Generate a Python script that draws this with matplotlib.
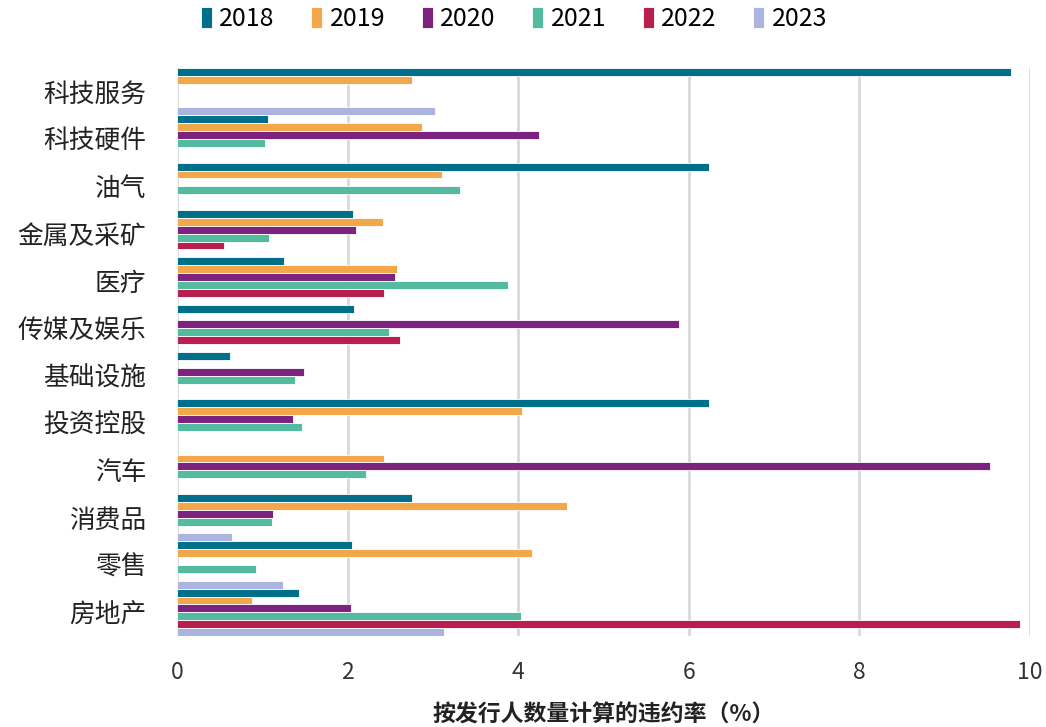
import matplotlib.pyplot as plt
import numpy as np

plt.rcParams['font.family'] = ['Noto Sans CJK SC', 'DejaVu Sans']

# Sectors, top to bottom
sectors = ['科技服务', '科技硬件', '油气', '金属及采矿', '医疗', '传媒及娱乐',
           '基础设施', '投资控股', '汽车', '消费品', '零售', '房地产']
years = ['2018', '2019', '2020', '2021', '2022', '2023']

# Default rate by issuer count (%), 0 = no default that year
rate_2018 = [9.78, 1.07, 6.24, 2.06, 1.26, 2.07, 0.62, 6.24, 0, 2.75, 2.05, 1.43]
rate_2019 = [2.76, 2.87, 3.11, 2.41, 2.58, 0, 0, 4.04, 2.43, 4.57, 4.16, 0.88]
rate_2020 = [0, 4.24, 0, 2.10, 2.55, 5.88, 1.49, 1.36, 9.53, 1.13, 0, 2.04]
rate_2021 = [0, 1.03, 3.32, 1.08, 3.88, 2.49, 1.38, 1.46, 2.21, 1.11, 0.93, 4.03]
rate_2022 = [0, 0, 0, 0.55, 2.43, 2.61, 0, 0, 0, 0, 0, 9.88]
rate_2023 = [3.02, 0, 0, 0, 0, 0, 0, 0, 0, 0.64, 1.24, 3.13]

colors = ['#00708a', '#f2a74b', '#7b237e', '#55bba0', '#b81f4f', '#aab4de']
series = [rate_2018, rate_2019, rate_2020, rate_2021, rate_2022, rate_2023]

fig = plt.figure(figsize=(10.46, 7.27), dpi=100)
ax = fig.add_axes([177 / 1046, 1 - 636 / 727, (1030 - 177) / 1046, (636 - 68) / 727])

y = np.arange(len(sectors))
h = 1 / 6
for i, (yr, vals, c) in enumerate(zip(years, series, colors)):
    ax.barh(y + (i - 2.5) * h, vals, height=h, color=c, edgecolor='white',
            linewidth=0.6, label=yr, zorder=3)

ax.set_xlim(0, 10)
ax.set_ylim(len(sectors) - 0.5, -0.5)
ax.set_xticks([0, 2, 4, 6, 8, 10])
ax.set_yticks(y)
ax.set_yticklabels(sectors, fontsize=18.5, color='#222222')
ax.tick_params(axis='x', labelsize=16.5, colors='#333333', pad=18, length=0)
ax.tick_params(axis='y', length=0, pad=22)
ax.grid(axis='x', color='#d9d9d9', linewidth=2, zorder=0)
for s in ax.spines.values():
    s.set_visible(False)

ax.set_xlabel('按发行人数量计算的违约率（%）', fontsize=16.5, color='#222222',
              fontweight='bold', labelpad=14)

ax.legend(loc='center', bbox_to_anchor=((514 - 177) / 853, 1 + (68 - 19) / 568),
          ncol=6, frameon=False, fontsize=18, handlelength=0.45, handleheight=0.9,
          handletextpad=0.3, columnspacing=1.45)

fig.savefig('out.png', dpi=100)
